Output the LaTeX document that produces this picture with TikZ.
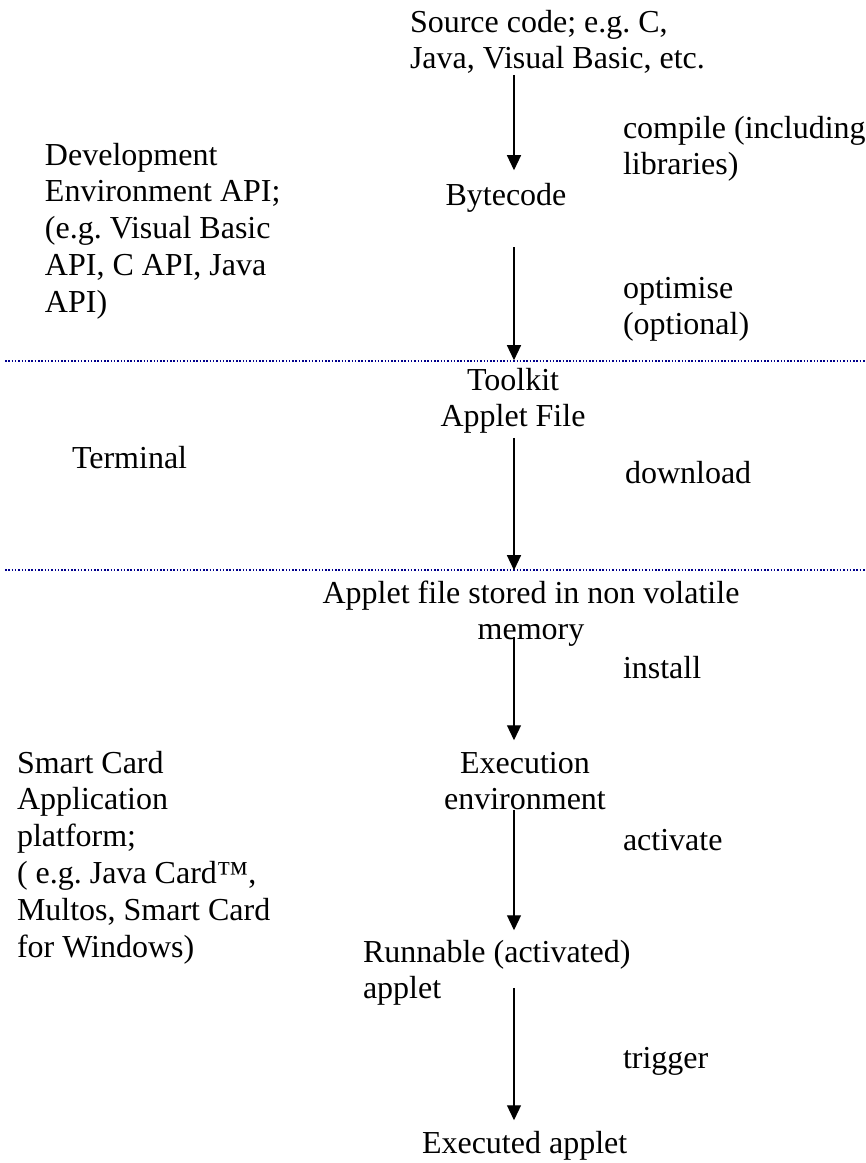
\documentclass[tikz,border=0pt]{standalone}
\usepackage{fontspec}
\setmainfont{Liberation Serif}
\usetikzlibrary{arrows.meta,calc}
\definecolor{dotblue}{RGB}{0,0,140}
\frenchspacing
\begin{document}
\begin{tikzpicture}[x=1pt,y=-1pt,
  txt/.style={inner sep=0pt,outer sep=0pt,font=\fontsize{32}{36.8}\selectfont\frenchspacing},
  lefttxt/.style={txt,anchor=north west,align=left},
  midtxt/.style={txt,anchor=north,align=center},
  arr/.style={line width=1.2pt,-{Triangle[length=15pt,width=14pt]}},
  sep/.style={dotblue,line width=1.3pt,dash pattern=on 1.5pt off 1.8pt}]
\useasboundingbox (0,0) rectangle (866,1163);
\coordinate (axis) at (514,0);
% left-hand column
\node[lefttxt] (dev) at (45,165-25.76) {\strut Development\\Environment API;\\(e.g. Visual Basic\\API, C API, Java\\API)\strut};
\node[lefttxt] (term) at (72,468-25.76) {\strut Terminal\strut};
\node[lefttxt] (smart) at (17,773-25.76) {\strut Smart Card\\Application\\platform;\\( e.g. Java Card™,\\Multos, Smart Card\\for Windows)\strut};
% central chain
\node[lefttxt] (src) at (410,32-25.76) {\strut Source code; e.g. C,\\Java, Visual Basic, etc.\strut};
\node[midtxt] (byte) at (506,205-25.76) {\strut Bytecode\strut};
\node[midtxt] (tool) at (513,390-25.76) {\strut Toolkit\\Applet File\strut};
\node[midtxt] (stored) at (531,603-25.76) {\strut Applet file stored in non volatile\\memory\strut};
\node[midtxt] (exec) at (525,773-25.76) {\strut Execution\\environment\strut};
\node[lefttxt] (run) at (363,962-25.76) {\strut Runnable (activated)\\applet\strut};
\node[lefttxt] (done) at (422,1153-25.76) {\strut Executed applet\strut};
% step labels
\node[lefttxt] (lcompile) at (623,138-25.76) {\strut compile (including\\libraries)\strut};
\node[lefttxt] (lopt) at (623,298-25.76) {\strut optimise\\(optional)\strut};
\node[lefttxt] (ldown) at (625,483-25.76) {\strut download\strut};
\node[lefttxt] (linst) at (623,678-25.76) {\strut install\strut};
\node[lefttxt] (lact) at (623,850-25.76) {\strut activate\strut};
\node[lefttxt] (ltrig) at (623,1068-25.76) {\strut trigger\strut};
% separators
\coordinate (s1a) at (5,361);
\coordinate (s1b) at (866,361);
\coordinate (s2a) at (5,570);
\coordinate (s2b) at (866,570);
\draw[sep] (s1a) -- (s1b);
\draw[sep] (s2a) -- (s2b);
% arrows
\draw[arr] ([yshift=5pt]src.south -| axis) -- ([yshift=9pt]byte.north -| axis);
\draw[arr] ([yshift=-31pt]byte.south -| axis) -- ([yshift=4pt]tool.north -| axis);
\draw[arr] ([yshift=0pt]tool.south -| axis) -- ([yshift=7pt]stored.north -| axis);
\draw[arr] ([yshift=14pt]stored.south -| axis) -- ([yshift=7pt]exec.north -| axis);
\draw[arr] ([yshift=11pt]exec.south -| axis) -- ([yshift=6pt]run.north -| axis);
\draw[arr] ([yshift=22pt]run.south -| axis) -- ([yshift=7pt]done.north -| axis);
\end{tikzpicture}
\end{document}
